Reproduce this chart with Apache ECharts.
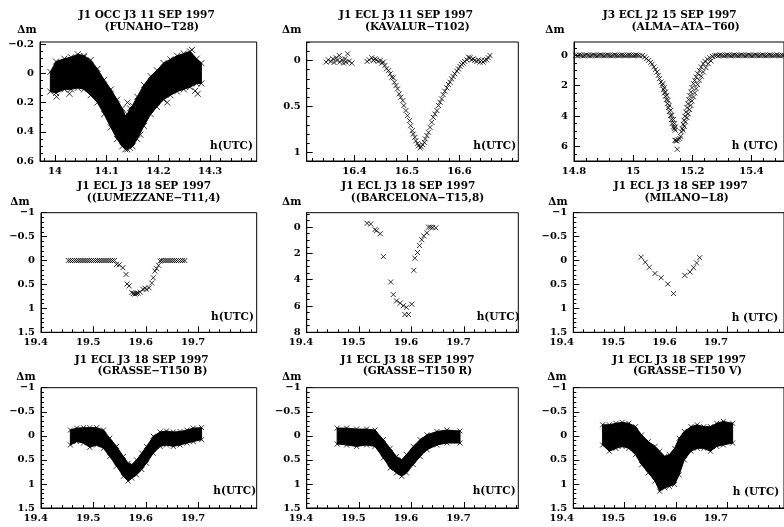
<!DOCTYPE html>
<html><head><meta charset="utf-8">
<script src="https://cdn.jsdelivr.net/npm/echarts@6/dist/echarts.min.js"></script>
<style>html,body{margin:0;padding:0;background:#fff}#c{width:784px;height:527px}</style>
</head><body><div id="c"></div>
<script>
// ================= DATA =================
// Panel 1: FUNAHO-T28, dense band -> envelope (top / bottom of the band) + isolated points
const FUNAHO_T   = [13.991,14.002,14.018,14.031,14.044,14.056,14.069,14.082,14.095,14.108,14.120,14.130,14.136,14.140,14.145,14.150,14.159,14.172,14.185,14.197,14.210,14.223,14.236,14.249,14.261,14.274,14.283];
const FUNAHO_TOP = [-0.01,-0.08,-0.10,-0.11,-0.13,-0.12,-0.09,-0.03,0.045,0.11,0.18,0.24,0.29,0.28,0.24,0.22,0.16,0.08,0.02,-0.02,-0.07,-0.095,-0.12,-0.135,-0.15,-0.10,-0.07];
const FUNAHO_BOT = [0.125,0.135,0.11,0.11,0.10,0.11,0.15,0.20,0.28,0.37,0.45,0.50,0.52,0.52,0.51,0.50,0.45,0.36,0.28,0.23,0.18,0.15,0.125,0.11,0.095,0.07,0.07];
const FUNAHO_OUT = [[14.003,0.16],[14.028,0.14],[14.056,-0.11],[14.140,0.20],[14.165,0.42],[14.217,0.20],[14.265,-0.16],[14.271,0.12],[14.276,0.14]];

// Panel 2: KAVALUR-T102
const KAVALUR = [[16.346,0.018],[16.350,-0.007],[16.355,0.011],[16.359,-0.018],[16.361,0.022],[16.365,-0.029],[16.367,0],[16.371,-0.054],[16.372,0.018],[16.376,-0.007],[16.379,0.029],[16.382,-0.018],[16.384,0.018],[16.387,-0.072],[16.390,0.007],[16.395,0.029],
 [16.424,0.011],[16.428,-0.007],[16.433,-0.029],[16.436,0],[16.439,-0.018],[16.442,-0.007],[16.445,0.011],[16.449,0],[16.452,0.029],[16.455,0.018],[16.458,0.054],[16.461,0.09],[16.465,0.109],[16.468,0.145],[16.471,0.181],[16.474,0.188],[16.476,0.236],[16.479,0.272],[16.482,0.308],[16.485,0.362],[16.488,0.399],[16.492,0.435],[16.494,0.489],[16.498,0.543],[16.501,0.598],[16.505,0.652],[16.507,0.707],[16.510,0.761],[16.512,0.797],[16.515,0.833],[16.517,0.870],[16.520,0.899],[16.522,0.924],[16.525,0.949],[16.527,0.935],[16.530,0.913],[16.533,0.888],[16.535,0.851],[16.538,0.815],[16.541,0.779],[16.544,0.725],[16.547,0.670],[16.550,0.616],[16.553,0.580],[16.557,0.543],[16.560,0.489],[16.563,0.453],[16.566,0.417],[16.569,0.370],[16.572,0.333],[16.576,0.297],[16.579,0.261],[16.582,0.236],[16.585,0.199],[16.588,0.174],[16.591,0.145],[16.595,0.116],[16.598,0.091],[16.601,0.065],[16.604,0.043],[16.607,0.029],[16.610,0.011],[16.614,-0.007],[16.617,-0.036],[16.620,-0.029],[16.623,-0.007],[16.626,-0.018],[16.629,0],[16.633,0.011],[16.636,-0.007],[16.639,0.018],[16.642,0],[16.645,0.018],[16.648,0],[16.652,-0.007],[16.655,-0.029],[16.658,-0.054]];

// Panel 3: ALMA-ATA-T60
const ALMA = [[14.806,0],[14.812,0.03],[14.818,-0.03],[14.824,0],[14.830,0.03],[14.836,0],[14.842,-0.03],[14.848,0],[14.854,0.03],[14.860,0],[14.866,-0.03],[14.872,0],[14.878,0.03],[14.884,0],[14.890,-0.03],[14.896,0],[14.902,0.03],[14.908,0],[14.914,-0.03],[14.920,0],[14.926,0.03],[14.932,0],[14.938,-0.03],[14.944,0],[14.950,0.03],[14.956,0],[14.962,-0.03],[14.968,0],[14.974,0.03],[14.980,0],[14.986,-0.03],[14.992,0],[14.998,0.03],[15.004,0],[15.010,-0.03],[15.016,0],[15.022,0.03],
 [15.031,0.02],[15.039,0.11],[15.045,0.22],[15.052,0.33],[15.059,0.46],[15.064,0.59],[15.070,0.77],[15.075,0.94],[15.081,1.10],[15.085,1.32],[15.089,1.54],[15.094,1.76],[15.098,1.98],[15.103,2.26],[15.106,2.48],[15.109,2.70],[15.112,2.92],[15.116,3.19],[15.119,3.45],[15.122,3.71],[15.126,3.98],[15.129,4.24],[15.132,4.50],[15.136,4.72],[15.139,4.83],[15.142,4.94],
 [15.100,1.87],[15.105,2.13],[15.109,2.42],[15.114,2.64],[15.118,2.97],[15.122,3.30],[15.127,3.63],[15.131,3.96],[15.136,4.24],[15.140,4.50],[15.143,4.72],
 [15.141,5.60],[15.145,5.62],[15.147,5.65],[15.152,5.56],[15.158,5.49],[15.149,6.20],
 [15.160,5.34],[15.163,5.05],[15.166,4.83],[15.169,4.55],[15.172,4.28],[15.175,4.02],[15.178,3.74],[15.182,3.45],[15.185,3.19],[15.188,2.92],[15.192,2.66],[15.195,2.42],[15.199,2.13],[15.204,1.87],[15.208,1.65],[15.213,1.43],[15.218,1.21],[15.224,0.99],[15.230,0.77],[15.237,0.55],[15.243,0.40],[15.251,0.26],[15.259,0.15],[15.268,0.07],[15.276,0.02],
 [15.169,4.94],[15.173,4.68],[15.177,4.39],[15.182,4.11],[15.186,3.85],[15.191,3.58],[15.195,3.30],[15.199,3.01],[15.204,2.75],[15.208,2.48],[15.213,2.20],[15.218,1.93],[15.224,1.65],[15.230,1.38],[15.237,1.10],[15.246,0.81],[15.254,0.55],[15.263,0.37],
 [15.282,0],[15.288,0.03],[15.294,-0.03],[15.300,0],[15.306,0.03],[15.312,0],[15.318,-0.03],[15.324,0],[15.330,0.03],[15.336,0],[15.342,-0.03],[15.348,0],[15.354,0.03],[15.360,0],[15.366,-0.03],[15.372,0],[15.378,0.03],[15.384,0],[15.390,-0.03],[15.396,0],[15.402,0.03],[15.408,0],[15.414,-0.03],[15.420,0],[15.426,0.03],[15.432,0],[15.438,-0.03],[15.444,0],[15.450,0.03],[15.456,0],[15.462,-0.03],[15.468,0],[15.474,0.03],[15.480,0],[15.486,-0.03],[15.492,0],[15.498,0.03],[15.504,0],[15.510,0]];

// Panel 4: LUMEZZANE-T11,4
const LUMEZZANE = [[19.452,0],[19.456,0],[19.460,0],[19.464,0],[19.468,0],[19.472,0],[19.476,0],[19.480,0],[19.484,0],[19.488,0],[19.492,0],[19.496,0],[19.500,0],[19.504,0],[19.508,0],[19.512,0],[19.516,0],[19.520,0],[19.524,0],[19.528,0],[19.532,0],[19.536,0],[19.540,0],
 [19.544,0.08],[19.549,0.09],[19.556,0.15],[19.562,0.29],[19.564,0.49],[19.568,0.53],[19.573,0.67],[19.576,0.69],[19.579,0.70],[19.582,0.69],[19.585,0.68],[19.589,0.66],[19.594,0.60],[19.598,0.58],[19.601,0.60],[19.606,0.57],[19.611,0.47],[19.614,0.36],[19.617,0.22],[19.620,0.17],[19.624,0.10],[19.627,0.01],
 [19.630,0],[19.634,0],[19.638,0],[19.642,0],[19.646,0],[19.650,0],[19.654,0],[19.658,0],[19.662,0],[19.666,0],[19.670,0],[19.674,0]];

// Panel 5: BARCELONA-T15,8
const BARCELONA = [[19.515,-0.29],[19.522,-0.24],[19.530,0.19],[19.533,0.27],[19.540,0.50],[19.546,2.24],[19.560,4.17],[19.565,5.13],[19.571,5.61],[19.578,5.78],[19.584,5.98],[19.590,6.10],[19.587,6.65],[19.594,6.65],[19.600,5.86],[19.604,3.28],[19.606,2.36],[19.611,1.93],[19.615,1.40],[19.619,0.96],[19.623,0.67],[19.629,0.43],[19.632,0.0],[19.636,0.0],[19.640,0.02],[19.646,0.05]];

// Panel 6: MILANO-L8
const MILANO = [[19.532,-0.07],[19.540,0.035],[19.548,0.14],[19.559,0.27],[19.571,0.36],[19.584,0.49],[19.595,0.69],[19.617,0.31],[19.627,0.24],[19.634,0.15],[19.640,0.05],[19.646,-0.06]];

// Panels 7-9: GRASSE-T150 B / R / V, dense bands -> envelopes
const GRASSE_B_T   = [19.456,19.468,19.481,19.493,19.506,19.519,19.531,19.544,19.557,19.566,19.573,19.582,19.592,19.601,19.614,19.627,19.639,19.652,19.665,19.678,19.690,19.706];
const GRASSE_B_TOP = [-0.12,-0.16,-0.17,-0.17,-0.17,-0.12,0.05,0.22,0.43,0.57,0.60,0.50,0.36,0.22,0.01,-0.08,-0.10,-0.08,-0.09,-0.12,-0.16,-0.17];
const GRASSE_B_BOT = [0.19,0.12,0.15,0.24,0.19,0.26,0.43,0.63,0.84,0.94,0.88,0.81,0.70,0.57,0.36,0.22,0.19,0.22,0.19,0.15,0.12,0.08];

const GRASSE_R_T   = [19.458,19.476,19.495,19.514,19.530,19.546,19.559,19.571,19.581,19.590,19.603,19.616,19.629,19.648,19.667,19.692];
const GRASSE_R_TOP = [-0.16,-0.16,-0.14,-0.14,-0.12,0.08,0.26,0.43,0.50,0.39,0.22,0.08,-0.02,-0.09,-0.12,-0.10];
const GRASSE_R_BOT = [0.17,0.19,0.22,0.19,0.22,0.46,0.67,0.77,0.84,0.77,0.60,0.43,0.29,0.19,0.15,0.15];

const GRASSE_V_T   = [19.457,19.470,19.483,19.495,19.508,19.521,19.533,19.546,19.559,19.568,19.578,19.587,19.597,19.606,19.616,19.629,19.641,19.654,19.667,19.679,19.692,19.710];
const GRASSE_V_TOP = [-0.23,-0.23,-0.26,-0.28,-0.26,-0.19,-0.02,0.12,0.22,0.32,0.43,0.39,0.26,0.05,-0.09,-0.19,-0.23,-0.19,-0.19,-0.26,-0.30,-0.26];
const GRASSE_V_BOT = [0.19,0.32,0.26,0.22,0.26,0.39,0.60,0.77,0.94,1.15,1.08,1.05,1.01,0.81,0.50,0.32,0.26,0.26,0.32,0.22,0.19,0.15];

// Tick labels
const P1_XTICKS = [14, 14.1, 14.2, 14.3];
const P1_YTICKS = [-0.2, 0, 0.2, 0.4, 0.6];
const P2_XTICKS = [16.4, 16.5, 16.6];
const P2_YTICKS = [0, 0.5, 1];
const P3_XTICKS = [14.8, 15, 15.2, 15.4];
const P3_YTICKS = [0, 2, 4, 6];
const SEP18_XTICKS = [19.4, 19.5, 19.6, 19.7];
const SEP18_YTICKS = [-1, -0.5, 0, 0.5, 1, 1.5];
const P5_YTICKS = [0, 2, 4, 6, 8];

// Titles
const TITLES = [
  ['J1 OCC J3 11 SEP 1997', '(FUNAHO\u2212T28)'],
  ['J1 ECL J3 11 SEP 1997', '(KAVALUR\u2212T102)'],
  ['J3 ECL J2 15 SEP 1997', '(ALMA\u2212ATA\u2212T60)'],
  ['J1 ECL J3 18 SEP 1997', '((LUMEZZANE\u2212T11,4)'],
  ['J1 ECL J3 18 SEP 1997', '((BARCELONA\u2212T15,8)'],
  ['J1 ECL J3 18 SEP 1997', '(MILANO\u2212L8)'],
  ['J1 ECL J3 18 SEP 1997', '(GRASSE\u2212T150 B)'],
  ['J1 ECL J3 18 SEP 1997', '(GRASSE\u2212T150 R)'],
  ['J1 ECL J3 18 SEP 1997', '(GRASSE\u2212T150 V)']
];
const XNAMES = ['h(UTC)','h(UTC)','h (UTC)','h(UTC)','h(UTC)','h (UTC)','h(UTC)','h(UTC)','h (UTC)'];
const YNAME = '\u0394m';

// ================= LAYOUT / STYLE =================
const FONT = 'DejaVu Serif';
const SYMBOL = 'path://M0,0L10,10M10,0L0,10';
const L = [
  {g:[40,42,216.7,119],   x:[13.971,14.39], y:[-0.214,0.6], xt:P1_XTICKS, xs:0.02, yt:P1_YTICKS, ys:0.05, sh:0,
   t1:[146.7,15], t2:[151.7,27], dm:[27,30], hx:[210,146]},
  {g:[306.7,42,211.6,119],x:[16.309,16.712],y:[-0.2,1.09],  xt:P2_XTICKS, xs:0.02, yt:P2_YTICKS, ys:0.1, sh:0,
   t1:[406,15], t2:[417.3,27], dm:[291.7,30], hx:[473.3,146]},
  {g:[574,42,215,119],    x:[14.8,15.51],   y:[-0.88,6.97], xt:P3_XTICKS, xs:0.04, yt:P3_YTICKS, ys:0.5, sh:0,
   t1:[669.7,15], t2:[685.7,27], dm:[555,30], hx:[731.7,146]},
  {g:[41,212.7,215.7,119.6],  x:[19.4,19.811], y:[-1,1.5], xt:SEP18_XTICKS, xs:0.02, yt:SEP18_YTICKS, ys:0.1, sh:5.3,
   t1:[144.2,186], t2:[153.7,198], dm:[20,202], hx:[211,317]},
  {g:[306.7,212.7,211.6,119.6],x:[19.4,19.803], y:[-1.1,8], xt:SEP18_XTICKS, xs:0.02, yt:P5_YTICKS, ys:0.5, sh:5.7,
   t1:[408.3,186], t2:[417.5,198], dm:[291.7,202], hx:[476.7,317]},
  {g:[573.3,212.7,215,119.6],  x:[19.4,19.81], y:[-1,1.5], xt:SEP18_XTICKS, xs:0.02, yt:SEP18_YTICKS, ys:0.1, sh:11.6,
   t1:[680.8,186], t2:[686.7,198], dm:[558,202], hx:[731.7,318]},
  {g:[41,387.7,215.7,120.3],   x:[19.4,19.811], y:[-1,1.5], xt:SEP18_XTICKS, xs:0.02, yt:SEP18_YTICKS, ys:0.1, sh:5.3,
   t1:[141.7,360], t2:[152.5,371], dm:[26,377], hx:[213.3,491]},
  {g:[306.7,387.7,211.6,120.3],x:[19.4,19.803], y:[-1,1.5], xt:SEP18_XTICKS, xs:0.02, yt:SEP18_YTICKS, ys:0.1, sh:5.7,
   t1:[407.5,360], t2:[417.5,371], dm:[291.7,377], hx:[472.7,491]},
  {g:[573.3,387.7,215,120.3],  x:[19.4,19.81], y:[-1,1.5], xt:SEP18_XTICKS, xs:0.02, yt:SEP18_YTICKS, ys:0.1, sh:11.6,
   t1:[679.2,360], t2:[687.5,371], dm:[557,377], hx:[732.7,492]}
];

function stepTicks(min, max, step) {
  const out = [];
  let k = Math.ceil(min / step - 1e-9);
  for (; k * step <= max + 1e-9; k++) out.push(Math.round(k * step * 1e6) / 1e6);
  return out;
}
const fmt = v => String(Math.round(v * 1000) / 1000).replace('-', '\u2212');

const grids = [], xAxes = [], yAxes = [], series = [], graphics = [];
L.forEach((p, i) => {
  grids.push({left:p.g[0], top:p.g[1], width:p.g[2], height:p.g[3], show:true, borderColor:'#000', borderWidth:1, backgroundColor:'transparent', containLabel:false});
  const lab = {fontFamily:FONT, fontSize:10, fontWeight:'bold', color:'#000'};
  xAxes.push({type:'value', gridIndex:i, min:p.x[0], max:p.x[1], position:'bottom',
    axisLine:{show:true, onZero:false, lineStyle:{color:'#000', width:1}},
    axisTick:{show:true, inside:true, length:6, customValues:p.xt, lineStyle:{color:'#000', width:1}},
    axisLabel:Object.assign({customValues:p.xt, formatter:fmt, margin:5, padding:[0, 2*p.sh, 0, 0], hideOverlap:false, showMinLabel:true, showMaxLabel:true}, lab),
    splitLine:{show:false}});
  xAxes.push({type:'value', gridIndex:i, min:p.x[0], max:p.x[1], position:'bottom',
    axisLine:{show:false, onZero:false},
    axisTick:{show:true, inside:true, length:3, customValues:stepTicks(p.x[0], p.x[1], p.xs), lineStyle:{color:'#000', width:1}},
    axisLabel:{show:false}, splitLine:{show:false}});
  yAxes.push({type:'value', gridIndex:i, min:p.y[0], max:p.y[1], inverse:true, position:'left',
    axisLine:{show:true, onZero:false, lineStyle:{color:'#000', width:1}},
    axisTick:{show:true, inside:true, length:6, customValues:p.yt, lineStyle:{color:'#000', width:1}},
    axisLabel:Object.assign({customValues:p.yt, formatter:fmt, margin:6, hideOverlap:false, showMinLabel:true, showMaxLabel:true}, lab),
    splitLine:{show:false}});
  yAxes.push({type:'value', gridIndex:i, min:p.y[0], max:p.y[1], inverse:true, position:'left',
    axisLine:{show:false, onZero:false},
    axisTick:{show:true, inside:true, length:3, customValues:stepTicks(p.y[0], p.y[1], p.ys), lineStyle:{color:'#000', width:1}},
    axisLabel:{show:false}, splitLine:{show:false}});
  const tf = 'bold 10.5px "' + FONT + '"';
  graphics.push({type:'text', x:p.t1[0], y:p.t1[1], style:{text:TITLES[i][0], fill:'#000', font:tf, align:'center', verticalAlign:'middle'}});
  graphics.push({type:'text', x:p.t2[0], y:p.t2[1], style:{text:TITLES[i][1], fill:'#000', font:tf, align:'center', verticalAlign:'middle'}});
  graphics.push({type:'text', x:p.dm[0], y:p.dm[1], style:{text:YNAME, fill:'#000', font:tf, align:'center', verticalAlign:'middle'}});
  graphics.push({type:'text', x:p.hx[0], y:p.hx[1], style:{text:XNAMES[i], fill:'#000', font:tf, align:'left', verticalAlign:'middle'}});
});

function scatter(i, data, size) {
  return {type:'scatter', xAxisIndex:2*i, yAxisIndex:2*i, data:data, symbol:SYMBOL, symbolSize:size||5,
    itemStyle:{color:'#000', borderColor:'#000', borderWidth:1}, emphasis:{disabled:true}, silent:true, animation:false};
}
function band(i, xs, top, bot) {
  const pairs = xs.map((x, k) => [x, top[k], bot[k]]);
  return {type:'custom', xAxisIndex:2*i, yAxisIndex:2*i, coordinateSystem:'cartesian2d', silent:true, animation:false,
    data:[[xs[0], top[0]]],
    renderItem:(params, api) => {
      const pts = [];
      pairs.forEach(q => pts.push(api.coord([q[0], q[1]])));
      for (let k = pairs.length - 1; k >= 0; k--) pts.push(api.coord([pairs[k][0], pairs[k][2]]));
      return {type:'polygon', shape:{points:pts}, style:{fill:'#000', stroke:'#000', lineWidth:1}};
    }};
}
function edges(xs, top, bot) {
  return xs.map((x, k) => [x, top[k]]).concat(xs.map((x, k) => [x, bot[k]]));
}

series.push(band(0, FUNAHO_T, FUNAHO_TOP, FUNAHO_BOT));
series.push(scatter(0, edges(FUNAHO_T, FUNAHO_TOP, FUNAHO_BOT).concat(FUNAHO_OUT), 6));
series.push(scatter(1, KAVALUR, 5));
series.push(scatter(2, ALMA, 5));
series.push(scatter(3, LUMEZZANE, 5));
series.push(scatter(4, BARCELONA, 5));
series.push(scatter(5, MILANO, 5));
series.push(band(6, GRASSE_B_T, GRASSE_B_TOP, GRASSE_B_BOT));
series.push(scatter(6, edges(GRASSE_B_T, GRASSE_B_TOP, GRASSE_B_BOT), 5));
series.push(band(7, GRASSE_R_T, GRASSE_R_TOP, GRASSE_R_BOT));
series.push(scatter(7, edges(GRASSE_R_T, GRASSE_R_TOP, GRASSE_R_BOT), 5));
series.push(band(8, GRASSE_V_T, GRASSE_V_TOP, GRASSE_V_BOT));
series.push(scatter(8, edges(GRASSE_V_T, GRASSE_V_TOP, GRASSE_V_BOT), 5));

const chart = echarts.init(document.getElementById('c'), null, {renderer:'canvas'});
chart.setOption({
  backgroundColor:'#fff', animation:false,
  grid:grids, xAxis:xAxes, yAxis:yAxes, series:series, graphic:graphics
});
</script></body></html>
